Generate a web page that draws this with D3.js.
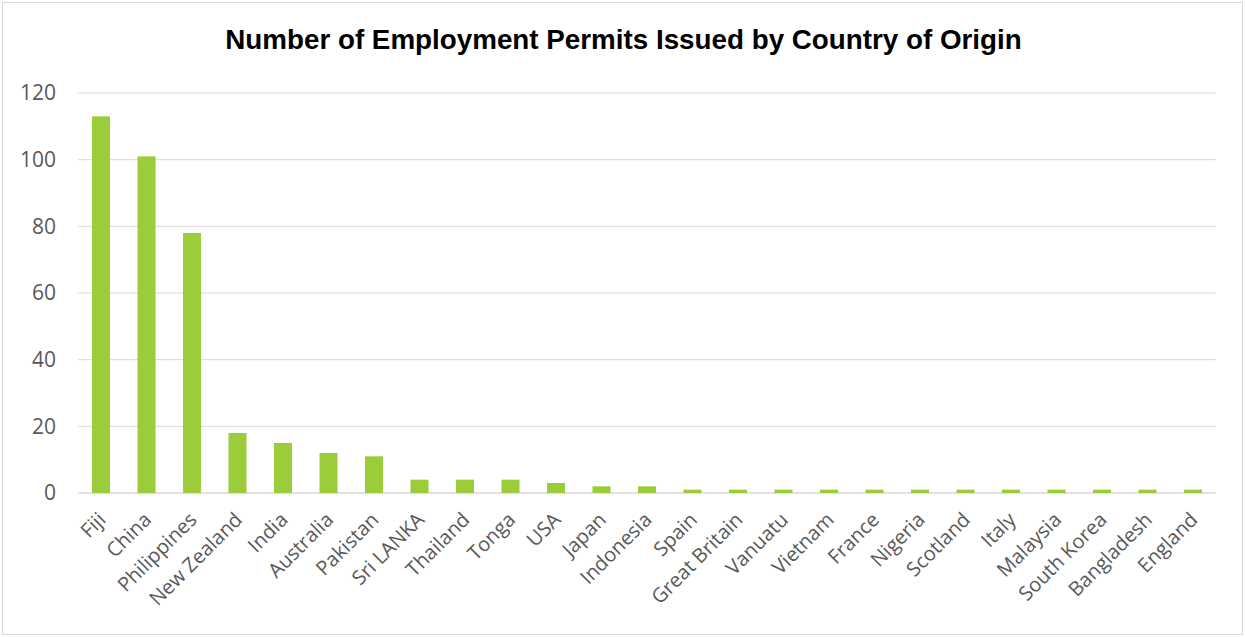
<!DOCTYPE html>
<html>
<head>
<meta charset="utf-8">
<script src="https://cdn.jsdelivr.net/npm/d3@7"></script>
<style>
  html, body { margin: 0; padding: 0; background: #ffffff; }
  svg { display: block; }
</style>
</head>
<body>
<svg id="chart" width="1245" height="637"></svg>
<script>
const title = "Number of Employment Permits Issued by Country of Origin";
const countries = ["Fiji", "China", "Philippines", "New Zealand", "India", "Australia", "Pakistan", "Sri LANKA", "Thailand", "Tonga", "USA", "Japan", "Indonesia", "Spain", "Great Britain", "Vanuatu", "Vietnam", "France", "Nigeria", "Scotland", "Italy", "Malaysia", "South Korea", "Bangladesh", "England"];
const permits = [113, 101, 78, 18, 15, 12, 11, 4, 4, 4, 3, 2, 2, 1, 1, 1, 1, 1, 1, 1, 1, 1, 1, 1, 1];
const yTicks = [0, 20, 40, 60, 80, 100, 120];

const svg = d3.select("#chart");
const W = 1245, H = 637;
const plot = { left: 78.25, right: 1215.75, top: 93, bottom: 493 };

// outer border
svg.append("rect")
  .attr("x", 2.5).attr("y", 2.5)
  .attr("width", W - 5).attr("height", H - 5)
  .attr("fill", "#ffffff").attr("stroke", "#d9d9d9").attr("stroke-width", 1);

const x = d3.scaleBand().domain(countries).range([plot.left, plot.right]).paddingInner(0.604).paddingOuter(0.302);
const y = d3.scaleLinear().domain([0, 120]).range([plot.bottom, plot.top]);

// gridlines
svg.append("g").selectAll("line").data(yTicks).join("line")
  .attr("x1", plot.left).attr("x2", plot.right)
  .attr("y1", d => y(d)).attr("y2", d => y(d))
  .attr("stroke", "#d9d9d9").attr("stroke-width", d => d === 0 ? 1.5 : 1);

// y axis labels
const yAxis = d3.axisLeft(y).tickValues(yTicks).tickSize(0).tickPadding(0);
const yg = svg.append("g").attr("transform", `translate(${56},0)`).call(yAxis);
yg.select(".domain").remove();
yg.selectAll("text")
  .attr("fill", "#595959")
  .style("font-family", "'Open Sans', sans-serif")
  .style("font-size", "21px");

// bars
svg.append("g").selectAll("rect").data(countries).join("rect")
  .attr("x", d => x(d))
  .attr("width", x.bandwidth())
  .attr("y", (d, i) => y(permits[i]))
  .attr("height", (d, i) => y(0) - y(permits[i]))
  .attr("fill", "#9acd39");

// x axis labels
const xAxis = d3.axisBottom(x).tickSize(0).tickPadding(0);
const xg = svg.append("g").attr("transform", `translate(0,${plot.bottom})`).call(xAxis);
xg.select(".domain").remove();
xg.selectAll("text")
  .attr("fill", "#595959")
  .style("font-family", "'Open Sans', sans-serif")
  .style("font-size", "20px")
  .attr("text-anchor", "end")
  .attr("dy", null)
  .attr("y", null)
  .attr("transform", "translate(6,28) rotate(-45)");

// title
const t = svg.append("text")
  .attr("x", 623.5).attr("y", 49)
  .attr("text-anchor", "middle")
  .attr("fill", "#000000")
  .style("font-family", "'Liberation Sans', Arial, sans-serif")
  .style("font-weight", "bold")
  .style("font-size", "24px")
  .text(title);
const len = t.node().getComputedTextLength();
t.style("font-size", (24 * 797 / len) + "px");
</script>
</body>
</html>
